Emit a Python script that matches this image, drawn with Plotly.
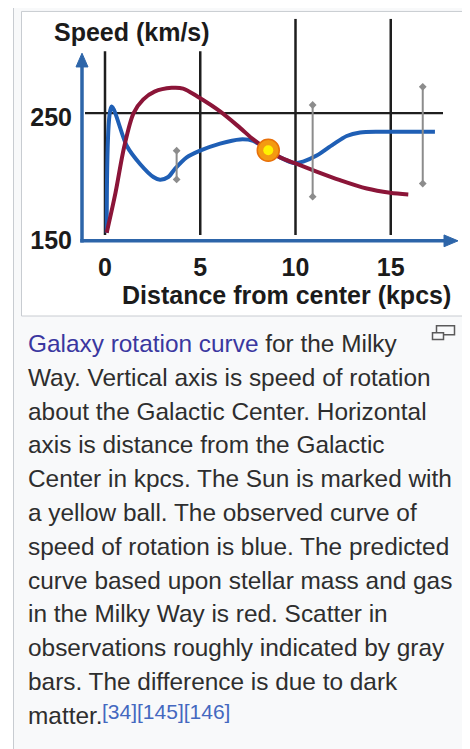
import plotly.graph_objects as go

# The page body has an 8px margin, so the figure is drawn 8px in from the window corner.
OFF = 8
W, H = 470 - OFF, 749 - OFF

# ---------------- data ----------------
blue_x = [0.09, 0.35, 1.14, 1.84, 2.54, 2.89, 3.32, 3.67, 4.29, 4.99, 6.04, 7.09, 7.78,
          8.57, 9.19, 9.97, 10.4, 11.11, 11.98, 12.69, 13.39, 14.44, 17.32]
blue_y = [152.6, 255.4, 223.4, 208.6, 198.0, 195.8, 198.0, 204.6, 214.0, 219.4, 225.2, 228.6, 227.4,
          219.8, 214.0, 209.2, 210.5, 215.4, 224.6, 231.4, 234.2, 234.8, 234.8]

red_x = [0.09, 0.55, 1.0, 1.5, 2.0, 2.6, 3.5, 4.1, 4.85, 6.04, 7.09, 7.78, 8.57, 9.19,
         9.97, 10.94, 12.34, 13.74, 14.96, 15.92]
red_y = [152.6, 185.0, 222.0, 250.0, 261.0, 267.5, 270.6, 270.0, 263.5, 251.4, 238.0, 228.6, 219.8, 214.0,
         209.2, 203.4, 195.4, 188.6, 185.2, 183.8]

sun_x = [8.57]
sun_y = [219.8]

scatter_x = [3.76, 10.9, 16.68]
scatter_lo = [196.0, 182.0, 192.6]
scatter_hi = [219.4, 256.6, 271.4]

x_ticks = [0, 5, 10, 15]
x_tick_labels = ["0", "5", "10", "15"]
y_ticks = [150, 250]
y_tick_labels = ["150", "250"]

grid_x = [0, 5, 10, 15]
grid_top = [300.4, 300.4, 326.8, 326.8]
ref_line_y = 250

y_title = "Speed (km/s)"
x_title = "Distance from center (kpcs)"

link_text = "Galaxy rotation curve"
caption_lines = [
    " for the Milky",
    "Way. Vertical axis is speed of rotation",
    "about the Galactic Center. Horizontal",
    "axis is distance from the Galactic",
    "Center in kpcs. The Sun is marked with",
    "a yellow ball. The observed curve of",
    "speed of rotation is blue. The predicted",
    "curve based upon stellar mass and gas",
    "in the Milky Way is red. Scatter in",
    "observations roughly indicated by gray",
    "bars. The difference is due to dark",
    "matter.",
]
refs_text = "[34][145][146]"

# ---------------- layout helpers (window pixels -> paper / data) ----------------
X0PX, XPX = 105.0, 19.05       # pixel of x=0, pixels per kpc
Y150PX, YPX = 240.0, 1.25      # pixel of y=150, pixels per km/s


def px(x):
    return (x - OFF) / W


def py(y):
    return 1 - (y - OFF) / H


def dx(p):
    return (p - X0PX) / XPX


def dy(p):
    return 150 + (Y150PX - p) / YPX


FONT = "Arial, Liberation Sans, sans-serif"
TXT = "#1b1b1b"
BLUE = "#1f5fb5"
RED = "#8b1538"
AXBLUE = "#2d65a9"
GRID = "#1e1e1e"
BAR = "#8c8c8c"

fig = go.Figure()

fig.add_trace(go.Scatter(x=blue_x, y=blue_y, mode="lines",
                         line=dict(color=BLUE, width=4, shape="spline", smoothing=0.8),
                         hoverinfo="skip", showlegend=False))
fig.add_trace(go.Scatter(x=red_x, y=red_y, mode="lines",
                         line=dict(color=RED, width=4, shape="spline", smoothing=0.9),
                         hoverinfo="skip", showlegend=False))
for xb, lo, hi in zip(scatter_x, scatter_lo, scatter_hi):
    fig.add_trace(go.Scatter(x=[xb, xb], y=[lo, hi], mode="lines+markers",
                             line=dict(color=BAR, width=2),
                             marker=dict(symbol="diamond", size=6, color=BAR),
                             hoverinfo="skip", showlegend=False))
fig.add_trace(go.Scatter(x=sun_x, y=sun_y, mode="markers",
                         marker=dict(size=22, color="#f39a12", line=dict(color="#e8700a", width=1.5)),
                         hoverinfo="skip", showlegend=False))
fig.add_trace(go.Scatter(x=sun_x, y=sun_y, mode="markers",
                         marker=dict(size=10, color="#fff200"),
                         hoverinfo="skip", showlegend=False))

shapes = []
# page boxes
shapes.append(dict(type="rect", xref="paper", yref="paper", layer="below",
                   x0=px(13.5), x1=px(490), y0=py(3.5), y1=py(770),
                   fillcolor="#f8f9fa", line=dict(color="#c8ccd1", width=1)))
shapes.append(dict(type="rect", xref="paper", yref="paper", layer="below",
                   x0=px(21.5), x1=px(462.5), y0=py(11.5), y1=py(321.5),
                   fillcolor="#ffffff", line=dict(color="#c8ccd1", width=1)))
# grid lines
for gx, gt in zip(grid_x, grid_top):
    shapes.append(dict(type="line", xref="x", yref="y", layer="below",
                       x0=gx, x1=gx, y0=dy(239), y1=gt, line=dict(color=GRID, width=2.5)))
shapes.append(dict(type="line", xref="x", yref="y", layer="below",
                   x0=dx(85), x1=dx(443), y0=ref_line_y, y1=ref_line_y,
                   line=dict(color=GRID, width=2.2)))
# axis lines with arrows
shapes.append(dict(type="line", xref="paper", yref="paper", layer="below",
                   x0=px(82), x1=px(82), y0=py(246.7), y1=py(64), line=dict(color=AXBLUE, width=3.5)))
shapes.append(dict(type="path", xref="paper", yref="paper", layer="below",
                   path=f"M {px(76)} {py(68)} L {px(82)} {py(54)} L {px(88)} {py(68)} Z",
                   fillcolor=AXBLUE, line=dict(color=AXBLUE, width=1)))
shapes.append(dict(type="line", xref="paper", yref="paper", layer="below",
                   x0=px(80.3), x1=px(447), y0=py(245), y1=py(245), line=dict(color=AXBLUE, width=3.5)))
shapes.append(dict(type="path", xref="paper", yref="paper", layer="below",
                   path=f"M {px(444)} {py(239)} L {px(458)} {py(245)} L {px(444)} {py(251)} Z",
                   fillcolor=AXBLUE, line=dict(color=AXBLUE, width=1)))
# enlarge icon
shapes.append(dict(type="rect", xref="paper", yref="paper",
                   x0=px(436.5), x1=px(454.5), y0=py(331.5), y1=py(340.5),
                   fillcolor="rgba(0,0,0,0)", line=dict(color="#5a5a5a", width=1.5)))
shapes.append(dict(type="rect", xref="paper", yref="paper",
                   x0=px(432.5), x1=px(443.5), y0=py(338.5), y1=py(345.5),
                   fillcolor="#f8f9fa", line=dict(color="#5a5a5a", width=1.5)))

annotations = []
annotations.append(dict(text=f"<b>{y_title}</b>", xref="paper", yref="paper",
                        x=px(52), y=py(32), xanchor="left", yanchor="middle", showarrow=False,
                        font=dict(family=FONT, size=25, color=TXT)))
annotations.append(dict(text=f"<b>{x_title}</b>", xref="paper", yref="paper",
                        x=px(453), y=py(300), xanchor="right", yanchor="middle", showarrow=False,
                        font=dict(family=FONT, size=25, color=TXT)))

LINK = "#3a37a0"
REFC = "#4468c0"
for i, line in enumerate(caption_lines):
    t = line
    if i == 0:
        t = f"<span style='color:{LINK}'>{link_text}</span>{line}"
    annotations.append(dict(text=t, xref="paper", yref="paper",
                            x=px(26), y=py(349.5 + 34.4 * i), xanchor="left", yanchor="middle",
                            showarrow=False, font=dict(family=FONT, size=24.4, color="#2e2e2e")))
annotations.append(dict(text=refs_text, xref="paper", yref="paper",
                        x=px(100), y=py(724), xanchor="left", yanchor="middle",
                        showarrow=False, font=dict(family=FONT, size=21, color=REFC)))

fig.update_layout(
    width=W, height=H,
    margin=dict(l=0, r=0, t=0, b=0),
    paper_bgcolor="#ffffff",
    plot_bgcolor="rgba(0,0,0,0)",
    showlegend=False,
    shapes=shapes,
    annotations=annotations,
    xaxis=dict(domain=[px(82), px(457)], range=[dx(82), dx(457)],
               tickmode="array", tickvals=x_ticks, ticktext=[f"<b>{t}</b>" for t in x_tick_labels],
               ticks="outside", ticklen=4, tickcolor="rgba(0,0,0,0)",
               tickfont=dict(family=FONT, size=25, color=TXT),
               showgrid=False, zeroline=False, showline=False, fixedrange=True),
    yaxis=dict(domain=[py(245), py(19)], range=[dy(245), dy(19)],
               tickmode="array", tickvals=y_ticks, ticktext=[f"<b>{t}</b>" for t in y_tick_labels],
               ticks="outside", ticklen=4, tickcolor="rgba(0,0,0,0)", ticklabelshift=4,
               tickfont=dict(family=FONT, size=25, color=TXT),
               showgrid=False, zeroline=False, showline=False, fixedrange=True),
)

fig.write_html("out.html")
